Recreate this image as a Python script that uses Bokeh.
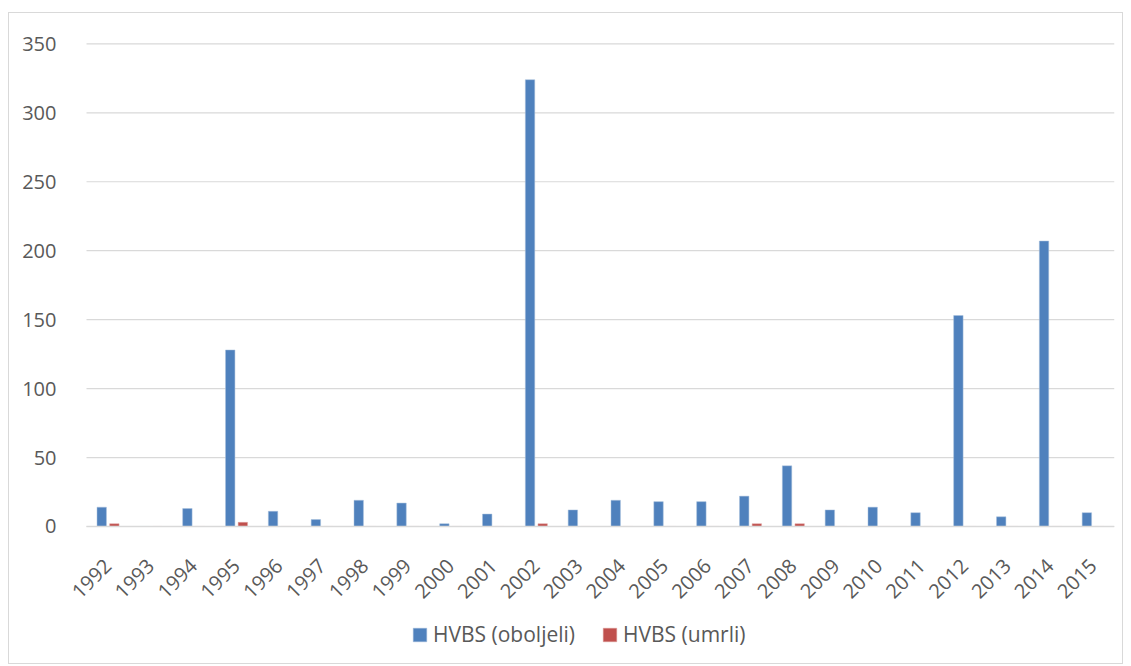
import math
from bokeh.plotting import figure
from bokeh.models import ColumnDataSource, Legend, LegendItem, FixedTicker
from bokeh.transform import dodge
from bokeh.embed import file_html
from bokeh.resources import INLINE

years = [str(y) for y in range(1992, 2016)]
oboljeli = [14, 0, 13, 128, 11, 5, 19, 17, 2, 9, 324, 12, 19, 18, 18, 22, 44, 12, 14, 10, 153, 7, 207, 10]
umrli = [2, 0, 0, 3, 0, 0, 0, 0, 0, 0, 2, 0, 0, 0, 0, 2, 2, 0, 0, 0, 0, 0, 0, 0]
y_ticks = [0, 50, 100, 150, 200, 250, 300, 350]

pos = list(range(len(years)))
src = ColumnDataSource(dict(pos=pos, year=years, oboljeli=oboljeli, umrli=umrli))

FONT = "Open Sans"
TXT = "#595959"
GRID = "#d9d9d9"

x_lo, x_hi = -0.5, len(years) - 0.5

p = figure(x_range=(x_lo - 0.514, x_hi), y_range=(-97.2, 351),
           frame_width=1050, frame_height=618, output_backend="svg", toolbar_location=None,
           min_border_left=55, min_border_right=8, min_border_top=29, min_border_bottom=3)
p.styles = {"border": "1px solid #d9d9d9", "margin-left": "8px", "margin-top": "12px"}
p.outline_line_color = None
p.background_fill_color = "white"

# horizontal gridlines over the category area only
grid_src = ColumnDataSource(dict(y=y_ticks, x0=[x_lo] * len(y_ticks), x1=[x_hi] * len(y_ticks)))
p.segment(x0="x0", x1="x1", y0="y", y1="y", source=grid_src, line_color=GRID, line_width=1.2)

b1 = p.vbar(x=dodge("pos", -0.145), top="oboljeli", width=0.22, source=src,
            fill_color="#4F81BD", line_color="#a9c0dd", line_width=0.5)
b2 = p.vbar(x=dodge("pos", 0.15), top="umrli", width=0.22, source=src,
            fill_color="#C0504D", line_color="#e0a8a6", line_width=0.5)

p.yaxis.ticker = FixedTicker(ticks=y_ticks)
p.yaxis.axis_line_color = None
p.yaxis.major_tick_line_color = None
p.yaxis.minor_tick_line_color = None
p.yaxis.major_label_text_font = FONT
p.yaxis.major_label_text_font_size = "20px"
p.yaxis.major_label_text_color = TXT
p.yaxis.major_label_standoff = 2

p.xaxis.fixed_location = 0
p.xaxis.bounds = (x_lo, x_hi)
p.xaxis.ticker = FixedTicker(ticks=pos)
p.xaxis.major_label_overrides = {i: y for i, y in zip(pos, years)}
p.xaxis.axis_line_color = GRID
p.xaxis.axis_line_width = 1.5
p.xaxis.major_tick_line_color = None
p.xaxis.minor_tick_line_color = None
p.xaxis.major_label_orientation = math.pi / 4
p.xaxis.major_label_text_font = FONT
p.xaxis.major_label_text_font_size = "20px"
p.xaxis.major_label_text_color = TXT
p.xaxis.major_label_standoff = 30

p.xgrid.grid_line_color = None
p.ygrid.grid_line_color = None

legend = Legend(items=[LegendItem(label="HVBS (oboljeli)", renderers=[b1]),
                       LegendItem(label="HVBS (umrli)", renderers=[b2])],
                orientation="horizontal", location=(347, 12),
                label_text_font=FONT, label_text_font_size="21px", label_text_color=TXT,
                glyph_width=17, glyph_height=17, spacing=26, label_standoff=5,
                border_line_color=None, background_fill_alpha=0, margin=0, padding=0)
p.add_layout(legend, "center")

open("out.html", "w").write(file_html(p, INLINE))
